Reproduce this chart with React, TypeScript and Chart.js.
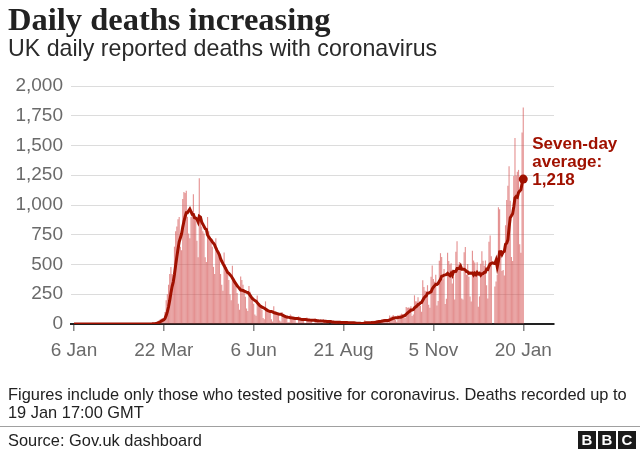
import { useEffect, useRef } from "react";
import { Chart, registerables } from "chart.js";

Chart.register(...registerables);

// Day index 0 = Mon 6 Jan 2020; last index 380 = Wed 20 Jan 2021
const tickDays = [0, 76, 152, 228, 304, 380];
const tickLabels = ["6 Jan", "22 Mar", "6 Jun", "21 Aug", "5 Nov", "20 Jan"];
const yTickStep = 250;
const yMax = 2000;

// UK daily reported deaths, one row per week (Mon..Sun)
const dailyDeaths: (number | null)[] = [
  0, 0, 0, 0, 0, 0, 0, // 6 Jan
  0, 0, 0, 0, 0, 0, 0, // 13 Jan
  0, 0, 0, 0, 0, 0, 0, // 20 Jan
  0, 0, 0, 0, 0, 0, 0, // 27 Jan
  0, 0, 0, 0, 0, 0, 0, // 3 Feb
  0, 0, 0, 0, 0, 0, 0, // 10 Feb
  0, 0, 0, 0, 0, 0, 0, // 17 Feb
  0, 0, 0, 0, 0, 0, 0, // 24 Feb
  0, 0, 0, 1, 0, 1, 0, // 2 Mar
  1, 2, 1, 3, 4, 10, 8, // 9 Mar
  15, 25, 30, 40, 45, 50, 40, // 16 Mar
  100, 200, 250, 330, 420, 480, 420, // 23 Mar
  380, 650, 780, 820, 880, 900, 650, // 30 Mar
  620, 1050, 1110, 1100, 1120, 900, 760, // 6 Apr
  720, 900, 950, 1090, 930, 880, 700, // 13 Apr
  560, 1224, 900, 820, 780, 760, 560, // 20 Apr
  520, 900, 780, 720, 700, 650, 480, // 27 Apr
  420, 720, 640, 600, 560, 420, 330, // 4 May
  280, 600, 500, 480, 420, 370, 250, // 11 May
  200, 490, 380, 350, 320, 260, 170, // 18 May
  120, 400, 370, 330, 290, 230, 130, // 25 May
  110, 320, 270, 230, 200, 170, 80, // 1 Jun
  70, 240, 180, 160, 140, 120, 50, // 8 Jun
  40, 190, 130, 120, 110, 100, 40, // 15 Jun
  20, 150, 110, 100, 90, 80, 30, // 22 Jun
  20, 100, 80, 70, 60, 50, 15, // 29 Jun
  15, 80, 70, 60, 50, 40, 10, // 6 Jul
  10, 65, 55, 45, 40, 35, 10, // 13 Jul
  8, 55, 45, 40, 35, 25, 8, // 20 Jul
  8, 50, 38, 32, 28, 20, 6, // 27 Jul
  6, 40, 30, 25, 20, 15, 5, // 3 Aug
  5, 30, 22, 18, 15, 12, 3, // 10 Aug
  4, 25, 18, 15, 12, 10, 3, // 17 Aug
  3, 18, 15, 12, 10, 8, 2, // 24 Aug
  1, 3, 3, 12, 10, 2, 2, // 31 Aug
  3, 32, 8, 14, 6, 9, 5, // 7 Sep
  9, 27, 20, 21, 27, 27, 18, // 14 Sep
  11, 37, 37, 40, 34, 34, 17, // 21 Sep
  13, 71, 59, 66, 76, 49, 33, // 28 Sep
  19, 76, 70, 77, 87, 81, 65, // 5 Oct
  50, 143, 137, 138, 136, 150, 67, // 12 Oct
  80, 241, 191, 189, 224, 174, 151, // 19 Oct
  102, 367, 310, 280, 274, 326, 162, // 26 Oct
  136, 397, 492, 378, 355, 413, 156, // 2 Nov
  194, 532, 595, 563, 376, 462, 168, // 9 Nov
  213, 598, 529, 501, 511, 341, 398, // 16 Nov
  206, 608, 696, 498, 521, 479, 215, // 23 Nov
  205, 603, 648, 414, 504, 397, 231, // 30 Nov
  189, 616, 533, 516, 424, 519, 144, // 7 Dec
  232, 506, 612, 532, 489, 534, 326, // 14 Dec
  215, 691, 744, 570, null, null, 316, // 21 Dec
  357, 414, 981, 964, 613, 445, 454, // 28 Dec
  407, 830, 1041, 1162, 1325, 1035, 563, // 4 Jan
  529, 1243, 1564, 1248, 1280, 1295, 671, // 11 Jan
  599, 1610, 1820, // 18 Jan
];

const annotationLines = ["Seven-day", "average:", "1,218"];
const titleText = "Daily deaths increasing";
const subtitleText = "UK daily reported deaths with coronavirus";
const noteText =
  "Figures include only those who tested positive for coronavirus. Deaths recorded up to 19 Jan 17:00 GMT";
const sourceText = "Source: Gov.uk dashboard";

const LINE_COLOR = "#a01100";
const BAR_COLOR = "rgba(212, 78, 78, 0.62)";

export default function App() {
  const canvasRef = useRef<HTMLCanvasElement>(null);

  useEffect(() => {
    document.body.style.margin = "0";
    const canvas = canvasRef.current;
    if (!canvas) return;

    // trailing seven-day average (missing days skipped)
    const average = dailyDeaths.map((_, i) => {
      let sum = 0;
      let n = 0;
      for (let j = Math.max(0, i - 6); j <= i; j++) {
        const v = dailyDeaths[j];
        if (v != null) {
          sum += v;
          n++;
        }
      }
      return n ? sum / n : null;
    });
    const lastIdx = dailyDeaths.length - 1;

    const labelPlugin = {
      id: "avgLabel",
      afterDatasetsDraw(chart: any) {
        const meta = chart.getDatasetMeta(0);
        const pt = meta.data[lastIdx];
        if (!pt) return;
        const ctx = chart.ctx;
        ctx.save();
        ctx.fillStyle = LINE_COLOR;
        ctx.font = 'bold 17px "Liberation Sans"';
        ctx.textAlign = "left";
        ctx.textBaseline = "alphabetic";
        const x = pt.x + 9;
        const offsets = [-30, -12, 6];
        annotationLines.forEach((t, k) => ctx.fillText(t, x, pt.y + offsets[k]));
        ctx.restore();
      },
    };

    const chart = new Chart(canvas, {
      type: "bar",
      data: {
        datasets: [
          {
            type: "line",
            data: average.map((v, i) => ({ x: i, y: v })) as any,
            borderColor: LINE_COLOR,
            backgroundColor: LINE_COLOR,
            borderWidth: 3,
            pointRadius: (c: any) => (c.dataIndex === lastIdx ? 4.5 : 0),
            pointBorderWidth: 0,
            tension: 0,
            spanGaps: true,
            order: 0,
          } as any,
          {
            type: "bar",
            data: dailyDeaths.map((v, i) => ({ x: i, y: v })) as any,
            backgroundColor: BAR_COLOR,
            borderWidth: 0,
            barPercentage: 0.95,
            categoryPercentage: 1,
            order: 1,
          } as any,
        ],
      },
      options: {
        animation: false,
        responsive: false,
        maintainAspectRatio: false,
        layout: { padding: { top: 86, left: 0, right: 86, bottom: 86 } },
        plugins: { legend: { display: false }, tooltip: { enabled: false } },
        scales: {
          x: {
            type: "linear",
            offset: false,
            min: -2.5,
            max: 406,
            afterFit: (s: any) => {
              s.height = 40;
            },
            afterBuildTicks: (s: any) => {
              s.ticks = tickDays.map((v) => ({ value: v }));
            },
            grid: {
              offset: false,
              drawOnChartArea: false,
              drawTicks: true,
              tickLength: 7,
              color: "#888",
              lineWidth: 1.5,
            },
            border: { display: true, color: "#222", width: 2 },
            ticks: {
              autoSkip: false,
              maxRotation: 0,
              padding: 8,
              color: "#6a6a6a",
              font: { family: "Liberation Sans", size: 19 },
              callback: (value: any) => {
                const i = tickDays.indexOf(Number(value));
                return i >= 0 ? tickLabels[i] : "";
              },
            },
          },
          y: {
            min: 0,
            max: yMax,
            afterFit: (s: any) => {
              s.width = 71;
            },
            grid: {
              drawTicks: false,
              color: (c: any) => (c.tick && c.tick.value === 0 ? "rgba(0,0,0,0)" : "#dcdcdc"),
              lineWidth: 1,
            },
            border: { display: false },
            ticks: {
              stepSize: yTickStep,
              padding: 8,
              color: "#6a6a6a",
              font: { family: "Liberation Sans", size: 19 },
              callback: (value: any) => Number(value).toLocaleString("en-GB"),
            },
          },
        },
      },
      plugins: [labelPlugin],
    });

    return () => chart.destroy();
  }, []);

  const textBase = { position: "absolute" as const, margin: 0, whiteSpace: "nowrap" as const };

  return (
    <div style={{ position: "relative", width: 640, height: 450, background: "#fff", overflow: "hidden" }}>
      <canvas ref={canvasRef} width={640} height={450} style={{ position: "absolute", left: 0, top: 0 }} />
      <div
        style={{
          ...textBase,
          left: 8,
          top: 2,
          fontFamily: '"Liberation Serif", serif',
          fontWeight: 700,
          fontSize: 32.5,
          lineHeight: "35px",
          color: "#222",
        }}
      >
        {titleText}
      </div>
      <div
        style={{
          ...textBase,
          left: 8,
          top: 35,
          fontFamily: '"Liberation Sans", sans-serif',
          fontSize: 23.2,
          lineHeight: "26px",
          color: "#2a2a2a",
        }}
      >
        {subtitleText}
      </div>
      <div
        style={{
          position: "absolute",
          left: 8,
          top: 385,
          width: 632,
          fontFamily: '"Liberation Sans", sans-serif',
          fontSize: 16.4,
          lineHeight: "18px",
          color: "#222",
        }}
      >
        {noteText}
      </div>
      <div style={{ position: "absolute", left: 0, top: 426, width: 640, height: 1, background: "#a0a0a0" }} />
      <div
        style={{
          ...textBase,
          left: 8,
          top: 431,
          fontFamily: '"Liberation Sans", sans-serif',
          fontSize: 16.4,
          lineHeight: "18px",
          color: "#222",
        }}
      >
        {sourceText}
      </div>
      <div style={{ position: "absolute", left: 578, top: 431, display: "flex", gap: 2 }}>
        {["B", "B", "C"].map((ch, i) => (
          <div
            key={i}
            style={{
              width: 18,
              height: 18,
              background: "#1a1a1a",
              color: "#fff",
              fontFamily: '"Liberation Sans", sans-serif',
              fontWeight: 700,
              fontSize: 15,
              lineHeight: "18px",
              textAlign: "center",
            }}
          >
            {ch}
          </div>
        ))}
      </div>
    </div>
  );
}
